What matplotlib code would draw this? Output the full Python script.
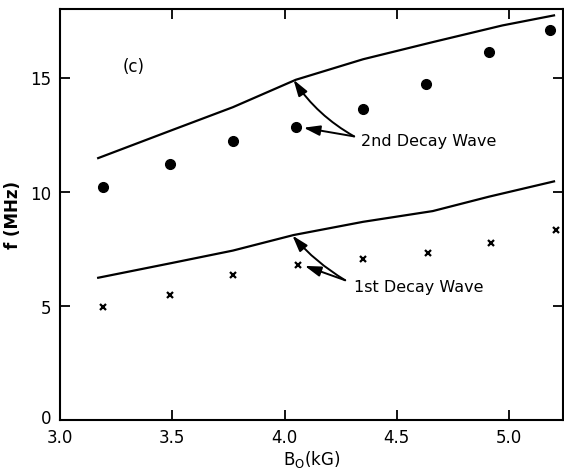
import matplotlib
matplotlib.use("Agg")
import matplotlib.pyplot as plt
import matplotlib.transforms as mtransforms

# Data
b0_meas = [3.19, 3.49, 3.77, 4.05, 4.35, 4.63, 4.91, 5.18]
f_2nd_meas = [10.2, 11.2, 12.2, 12.85, 13.6, 14.7, 16.1, 17.1]
b0_meas1 = [3.19, 3.49, 3.77, 4.06, 4.35, 4.64, 4.92, 5.21]
f_1st_meas = [4.97, 5.48, 6.35, 6.8, 7.03, 7.32, 7.74, 8.33]

b0_theory_2nd = [3.17, 3.5, 3.77, 4.05, 4.35, 4.66, 4.97, 5.2]
f_2nd_theory = [11.47, 12.7, 13.7, 14.9, 15.8, 16.55, 17.28, 17.72]
b0_theory_1st = [3.17, 3.5, 3.77, 4.04, 4.35, 4.66, 4.91, 5.2]
f_1st_theory = [6.23, 6.88, 7.42, 8.1, 8.68, 9.15, 9.78, 10.45]

xticks = [3.0, 3.5, 4.0, 4.5, 5.0]
yticks = [0, 5, 10, 15]

fig = plt.figure(figsize=(5.64, 4.77), dpi=100)
ax = fig.add_axes([60/564, 56/477, (563-60)/564, (421-10)/477])

ax.plot(b0_theory_2nd, f_2nd_theory, color='black', lw=1.6)
ax.plot(b0_theory_1st, f_1st_theory, color='black', lw=1.6)
ax.plot(b0_meas, f_2nd_meas, 'o', color='black', ms=7)
ax.plot(b0_meas1, f_1st_meas, 'x', color='black', ms=5, mew=1.6)

ax.set_xlim(3.0, 5.24)
ax.set_ylim(0, 18)
ax.set_xticks(xticks)
ax.set_xticklabels(['3.0', '3.5', '4.0', '4.5', '5.0'])
ax.set_yticks(yticks)
ax.tick_params(direction='in', top=True, right=True, length=7, width=1.3,
               labelsize=12)
ax.tick_params(axis='x', pad=6)
ax.tick_params(axis='y', pad=6)
for s in ax.spines.values():
    s.set_linewidth(1.5)

# nudge the "0" label up slightly so it doesn't collide with "3.0"
zero_lbl = ax.get_yticklabels()[0]
zero_lbl.set_transform(zero_lbl.get_transform() +
                       mtransforms.ScaledTranslation(0, 3/72, fig.dpi_scale_trans))

ax.set_xlabel(r'B$_{\mathrm{O}}$(kG)', fontsize=12, labelpad=1)
ax.set_ylabel('f (MHz)', fontsize=12, fontweight='bold', labelpad=6)

ax.text(3.33, 15.5, '(c)', fontsize=12, ha='center', va='center')

ap = dict(arrowstyle='-|>,head_length=0.7,head_width=0.22', color='black',
          lw=1.4, mutation_scale=14, shrinkA=0, shrinkB=0)
ax.text(4.34, 12.25, '2nd Decay Wave', fontsize=11.5, ha='left', va='center')
ax.annotate('', xy=(4.085, 12.8), xytext=(4.31, 12.42), arrowprops=ap)
ax.annotate('', xy=(4.04, 14.9), xytext=(4.31, 12.42),
            arrowprops=dict(ap, connectionstyle='arc3,rad=-0.12'))

ax.text(4.31, 5.85, '1st Decay Wave', fontsize=11.5, ha='left', va='center')
ax.annotate('', xy=(4.09, 6.75), xytext=(4.27, 6.12), arrowprops=ap)
ax.annotate('', xy=(4.035, 8.08), xytext=(4.27, 6.12),
            arrowprops=dict(ap, connectionstyle='arc3,rad=-0.08'))

fig.savefig('out.png', dpi=100)
